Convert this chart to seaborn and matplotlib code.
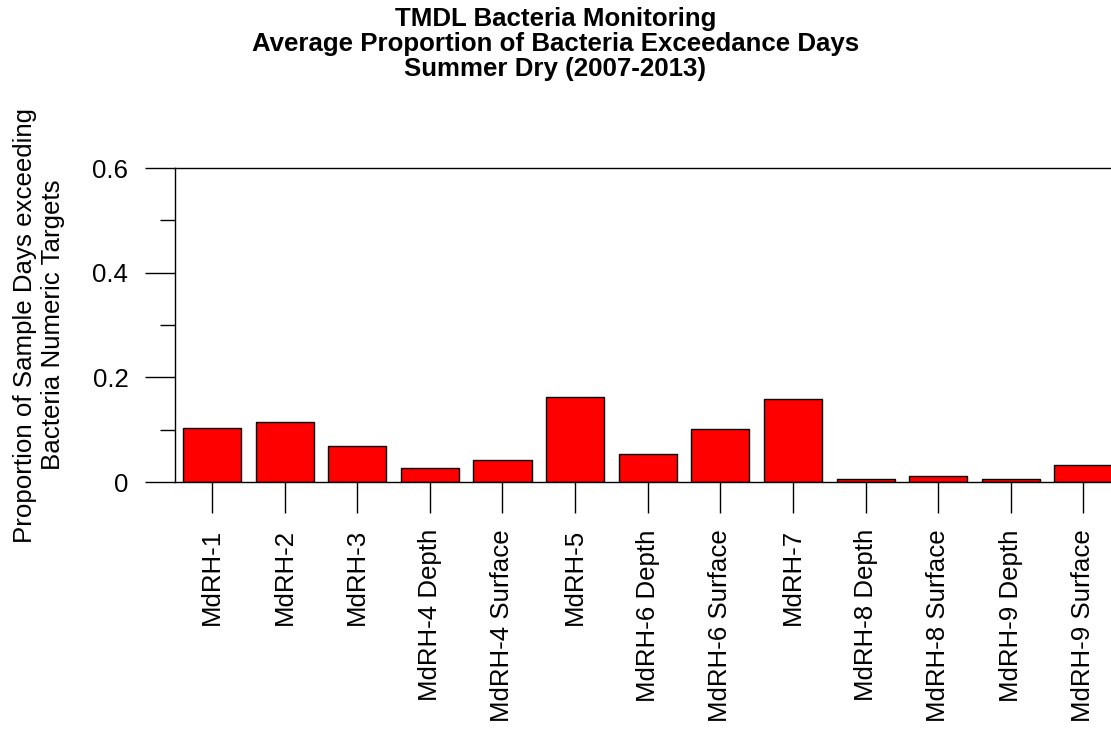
import matplotlib
matplotlib.use("Agg")
import matplotlib.pyplot as plt
import seaborn as sns
from matplotlib.ticker import MultipleLocator

# site names and average proportion of exceedance days
sites = ["MdRH-1", "MdRH-2", "MdRH-3", "MdRH-4 Depth", "MdRH-4 Surface",
         "MdRH-5", "MdRH-6 Depth", "MdRH-6 Surface", "MdRH-7",
         "MdRH-8 Depth", "MdRH-8 Surface", "MdRH-9 Depth", "MdRH-9 Surface"]
proportion = [0.104, 0.115, 0.068, 0.027, 0.043, 0.162, 0.053,
              0.101, 0.158, 0.006, 0.011, 0.006, 0.032]

title_lines = ["TMDL Bacteria Monitoring",
               "Average Proportion of Bacteria Exceedance Days",
               "Summer Dry (2007-2013)"]
ylabel_lines = ["Proportion of Sample Days exceeding", "Bacteria Numeric Targets"]

sns.set_style("white")
plt.rcParams['font.family'] = ['Liberation Sans', 'DejaVu Sans']
plt.rcParams['text.color'] = 'black'
plt.rcParams['axes.labelcolor'] = 'black'
plt.rcParams['xtick.color'] = 'black'
plt.rcParams['ytick.color'] = 'black'

fs = 18.6

fig = plt.figure(figsize=(11.11, 7.29), dpi=100)
ax = fig.add_axes([0.1575, 0.3388, 0.8425, 0.4307])

sns.barplot(x=sites, y=proportion, color="red", saturation=1,
            edgecolor="black", linewidth=1, width=0.8, errorbar=None, ax=ax)

ax.set_ylim(0, 0.6)
ax.set_xlim(-0.51, 12.38)

# R base graphics look: left axis line, box lines at 0 and 0.6
ax.spines["right"].set_visible(False)
for side in ["left", "top", "bottom"]:
    ax.spines[side].set_linewidth(1)
    ax.spines[side].set_color("black")

ax.yaxis.set_minor_locator(MultipleLocator(0.1))
ax.set_yticks([0, 0.2, 0.4, 0.6])
ax.set_yticklabels(["0", "0.2", "0.4", "0.6"])
ax.tick_params(axis="y", which="major", direction="out", length=21.6,
               width=1, pad=12, labelsize=fs, left=True)
ax.tick_params(axis="y", which="minor", direction="out", length=10.8,
               width=1, left=True)
ax.tick_params(axis="x", direction="out", length=22, width=1, pad=12,
               labelsize=fs, labelrotation=90, bottom=True)

ax.set_ylabel("\n".join(ylabel_lines), fontsize=fs, linespacing=1.25)
ax.yaxis.set_label_coords(-0.117, 0.5)
ax.set_xlabel("")

fig.suptitle("\n".join(title_lines), y=0.99, va="top", fontsize=fs,
             fontweight="bold", linespacing=1.05)

fig.savefig("out.png", dpi=100)
